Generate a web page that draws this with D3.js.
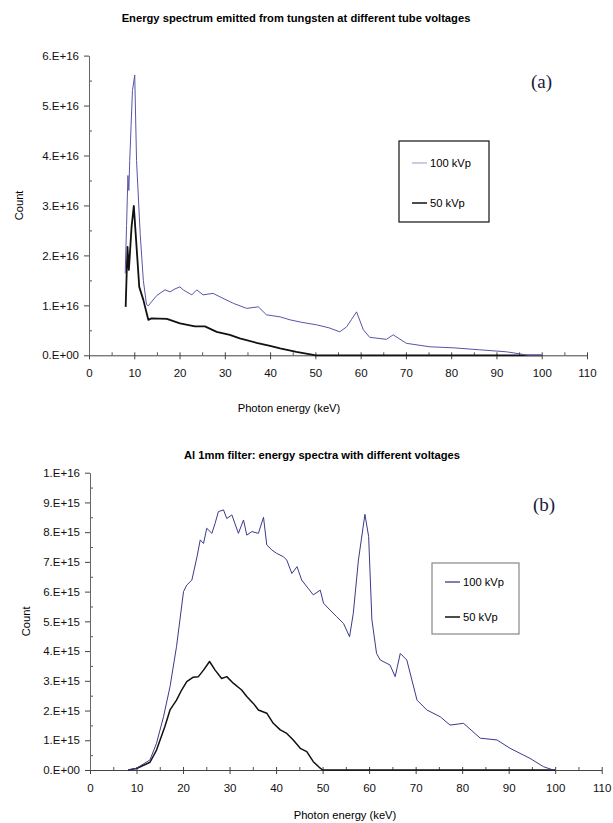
<!DOCTYPE html>
<html>
<head>
<meta charset="utf-8">
<script src="https://cdn.jsdelivr.net/npm/d3@7"></script>
<style>
  body { margin: 0; background: #fff; }
  svg { display: block; font-family: "Liberation Sans", Arial, sans-serif; }
</style>
</head>
<body>
<script>
// panel (a): no filter, counts in units of 1e16
var keVA100 = [8.0, 8.3, 8.6, 8.8, 9.0, 9.3, 9.6, 10.1, 10.5, 11.3, 12.0, 12.7, 13.1, 13.8, 15.0, 16.8, 17.9, 19.0, 20.1, 20.8, 22.7, 23.8, 25.2, 27.4, 29.6, 31.9, 34.8, 37.4, 39.2, 42.2, 44.4, 47.0, 50.3, 53.0, 55.4, 56.9, 58.0, 59.1, 60.6, 62.0, 65.7, 67.2, 70.1, 75.3, 80.4, 86.3, 92.2, 95.1, 96.9, 100];
var countA100 = [1.64, 2.6, 3.6, 3.3, 3.9, 4.6, 5.3, 5.61, 3.9, 2.44, 1.5, 1.02, 0.99, 1.07, 1.2, 1.31, 1.27, 1.33, 1.37, 1.31, 1.21, 1.31, 1.21, 1.24, 1.14, 1.04, 0.94, 0.97, 0.81, 0.77, 0.71, 0.66, 0.61, 0.55, 0.47, 0.57, 0.72, 0.87, 0.51, 0.36, 0.32, 0.41, 0.24, 0.17, 0.15, 0.11, 0.07, 0.03, 0.0, 0.0];
var keVA50 = [8.1, 8.5, 8.8, 9.0, 9.4, 9.9, 10.4, 10.7, 11.1, 12.0, 13.1, 13.8, 17.2, 20.1, 23.4, 25.6, 28.2, 31.1, 33.3, 37.0, 40.0, 42.2, 45.8, 49.5, 50, 100];
var countA50 = [0.97, 2.17, 1.71, 1.98, 2.57, 2.99, 2.31, 1.91, 1.37, 1.11, 0.71, 0.74, 0.73, 0.64, 0.58, 0.58, 0.47, 0.41, 0.34, 0.25, 0.19, 0.14, 0.07, 0.01, 0, 0];

// panel (b): Al 1mm filter, counts in units of 1e15
var keVB100 = [8.2, 10.0, 12.9, 14.3, 15.8, 17.2, 18.6, 20.1, 20.8, 21.9, 23.0, 23.7, 24.4, 25.1, 26.2, 26.9, 27.6, 28.7, 29.4, 30.5, 31.9, 33.0, 33.7, 34.8, 36.2, 37.3, 38.0, 39.1, 40.1, 41.6, 42.3, 43.4, 44.5, 45.5, 46.9, 48.0, 49.5, 50.2, 51.6, 53.0, 54.5, 55.8, 56.6, 57.7, 59.1, 59.9, 60.6, 61.6, 62.4, 64.5, 65.6, 66.7, 68.1, 70.3, 72.4, 75.3, 77.4, 80.3, 83.9, 87.5, 90.3, 93.2, 94.6, 97.5, 99.6];
var countB100 = [0, 0.06, 0.34, 0.9, 1.79, 2.8, 4.15, 6.0, 6.22, 6.39, 7.17, 7.74, 7.62, 8.13, 7.96, 8.3, 8.69, 8.75, 8.46, 8.58, 7.96, 8.41, 7.9, 8.02, 7.96, 8.5, 7.57, 7.4, 7.29, 7.17, 7.06, 6.61, 6.84, 6.39, 6.11, 5.89, 6.05, 5.61, 5.38, 5.16, 4.93, 4.48, 5.27, 7.06, 8.6, 7.85, 5.05, 3.92, 3.7, 3.53, 3.14, 3.92, 3.7, 2.35, 2.02, 1.79, 1.51, 1.57, 1.07, 1.01, 0.73, 0.5, 0.39, 0.11, 0];
var keVB50 = [8.2, 10.0, 12.9, 14.3, 16.1, 17.2, 18.6, 19.7, 20.8, 22.2, 23.3, 24.4, 25.7, 26.9, 28.3, 29.4, 30.8, 32.6, 33.7, 35.1, 36.2, 38.0, 39.4, 40.9, 42.3, 43.7, 45.2, 46.6, 48.0, 49.5, 50, 100];
var countB50 = [0, 0.05, 0.26, 0.67, 1.46, 2.02, 2.35, 2.69, 2.97, 3.12, 3.14, 3.36, 3.65, 3.36, 3.08, 3.14, 2.92, 2.69, 2.47, 2.24, 2.02, 1.91, 1.57, 1.35, 1.23, 1.01, 0.73, 0.62, 0.28, 0.06, 0, 0];

var xTicks = [0, 10, 20, 30, 40, 50, 60, 70, 80, 90, 100, 110];
var yTicksA = [0, 1e16, 2e16, 3e16, 4e16, 5e16, 6e16];
var yTicksB = [0, 1e15, 2e15, 3e15, 4e15, 5e15, 6e15, 7e15, 8e15, 9e15, 1e16];
var seriesNames = ["100 kVp", "50 kVp"];

var svg = d3.select("body").append("svg")
  .attr("width", 613)
  .attr("height", 823);

function expLabel(d) {
  if (d === 0) return "0.E+00";
  var e = Math.floor(Math.log10(d) + 1e-9);
  var m = Math.round(d / Math.pow(10, e));
  return m + ".E+" + e;
}

function zip(xs, ys, unit) {
  return xs.map(function(x, i) { return [x, ys[i] * unit]; });
}

function panel(o) {
  var x = d3.scaleLinear().domain([0, 110]).range([o.left, o.right]);
  var y = d3.scaleLinear().domain([0, o.yMax]).range([o.bottom, o.top]);
  var g = svg.append("g");

  // minor ticks
  var minorX = d3.range(5, 110, 10);
  g.append("g")
    .attr("transform", "translate(0," + o.bottom + ")")
    .call(d3.axisTop(x).tickValues(minorX).tickSize(3).tickFormat("").tickSizeOuter(0))
    .call(function(a) { a.select(".domain").remove(); a.selectAll("line").attr("stroke", "#555"); });
  var minorY = o.yTicks.slice(0, -1).map(function(d) { return d + o.yTicks[1] / 2; });
  g.append("g")
    .attr("transform", "translate(" + o.left + ",0)")
    .call(d3.axisRight(y).tickValues(minorY).tickSize(3).tickFormat("").tickSizeOuter(0))
    .call(function(a) { a.select(".domain").remove(); a.selectAll("line").attr("stroke", "#555"); });

  // x axis
  var xa = g.append("g")
    .attr("transform", "translate(0," + o.bottom + ")")
    .call(d3.axisBottom(x).tickValues(xTicks).tickSize(4).tickSizeOuter(0).tickPadding(10));
  xa.selectAll(".tick line").attr("y1", -3);
  xa.select(".domain").attr("stroke", "#444");
  xa.selectAll("line").attr("stroke", "#444");
  xa.selectAll("text").attr("font-size", 11.5).attr("fill", "#111")
    .attr("font-family", "Liberation Sans, Arial, sans-serif");

  // y axis
  var ya = g.append("g")
    .attr("transform", "translate(" + o.left + ",0)")
    .call(d3.axisLeft(y).tickValues(o.yTicks).tickFormat(expLabel).tickSize(5).tickSizeOuter(0).tickPadding(5));
  ya.select(".domain").attr("stroke", "#666");
  ya.selectAll("line").attr("stroke", "#444");
  ya.selectAll("text").attr("font-size", 11.5).attr("fill", "#111")
    .attr("font-family", "Liberation Sans, Arial, sans-serif");

  var line = d3.line()
    .x(function(d) { return x(d[0]); })
    .y(function(d) { return y(d[1]); });

  g.append("path")
    .datum(zip(o.k50, o.c50, o.unit))
    .attr("fill", "none")
    .attr("stroke", "#111")
    .attr("stroke-width", o.w50)
    .attr("stroke-linejoin", "round")
    .attr("d", line);

  g.append("path")
    .datum(zip(o.k100, o.c100, o.unit))
    .attr("fill", "none")
    .attr("stroke", o.col100)
    .attr("stroke-width", 1)
    .attr("stroke-linejoin", "round")
    .attr("d", line);

  // titles
  svg.append("text")
    .attr("x", o.titleX).attr("y", o.titleY)
    .attr("text-anchor", "middle")
    .attr("font-size", 11.2).attr("font-weight", "bold")
    .text(o.title);
  svg.append("text")
    .attr("x", o.xTitleX).attr("y", o.xTitleY)
    .attr("text-anchor", "middle")
    .attr("font-size", 11.2)
    .text("Photon energy (keV)");
  svg.append("text")
    .attr("transform", "translate(" + o.yTitleX + "," + ((o.top + o.bottom) / 2) + ") rotate(-90)")
    .attr("text-anchor", "middle")
    .attr("font-size", 11.2)
    .text("Count");

  svg.append("text")
    .attr("x", o.tagX).attr("y", o.tagY)
    .attr("font-family", "Liberation Serif, Times New Roman, serif")
    .attr("font-size", 19)
    .attr("fill", "#1a1a3a")
    .text(o.tag);

  // legend
  var lg = svg.append("g").attr("transform", "translate(" + o.lgX + "," + o.lgY + ")");
  lg.append("rect")
    .attr("width", o.lgW).attr("height", o.lgH)
    .attr("fill", "#fff")
    .attr("stroke", o.lgBorder).attr("stroke-width", 1.2);
  var lcol = [o.lgCol100, "#111"];
  seriesNames.forEach(function(name, i) {
    var ly = o.lgRow0 + i * o.lgGap;
    lg.append("line")
      .attr("x1", o.lgLine0).attr("x2", o.lgLine0 + 15)
      .attr("y1", ly).attr("y2", ly)
      .attr("stroke", lcol[i]).attr("stroke-width", i === 0 ? 1.2 : 1.5);
    lg.append("text")
      .attr("x", o.lgLine0 + 18).attr("y", ly + 4)
      .attr("font-size", 11.2)
      .text(name);
  });
}

panel({
  left: 89, right: 587, top: 55.6, bottom: 355.3, yMax: 6e16, yTicks: yTicksA, unit: 1e16,
  k100: keVA100, c100: countA100, k50: keVA50, c50: countA50,
  col100: "#5656a8", w50: 1.8,
  title: "Energy spectrum emitted from tungsten at different tube voltages",
  titleX: 296, titleY: 22, xTitleX: 289, xTitleY: 412, yTitleX: 23,
  tag: "(a)", tagX: 531, tagY: 88,
  lgX: 399, lgY: 141, lgW: 90, lgH: 81, lgRow0: 22, lgGap: 40, lgLine0: 13,
  lgBorder: "#111", lgCol100: "#a8a8d6"
});

panel({
  left: 90, right: 601.7, top: 472.7, bottom: 770, yMax: 1e16, yTicks: yTicksB, unit: 1e15,
  k100: keVB100, c100: countB100, k50: keVB50, c50: countB50,
  col100: "#3a3a8c", w50: 1.5,
  title: "Al 1mm filter: energy spectra with different voltages",
  titleX: 322, titleY: 459, xTitleX: 345, xTitleY: 819, yTitleX: 30,
  tag: "(b)", tagX: 533, tagY: 511,
  lgX: 432, lgY: 563, lgW: 87, lgH: 71, lgRow0: 19, lgGap: 35, lgLine0: 13,
  lgBorder: "#888", lgCol100: "#2a2a7a"
});
</script>
</body>
</html>
